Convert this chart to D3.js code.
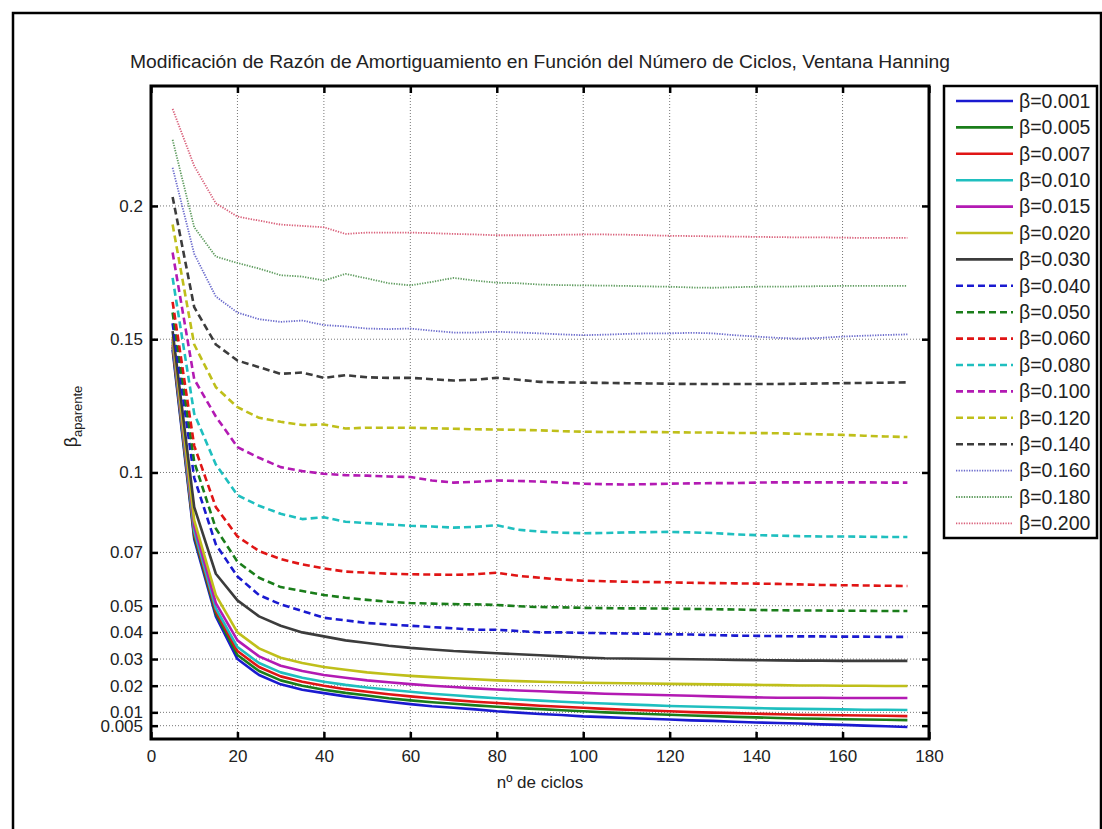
<!DOCTYPE html>
<html>
<head>
<meta charset="utf-8">
<script src="https://cdn.jsdelivr.net/npm/d3@7"></script>
<style>
  html, body { margin: 0; padding: 0; background: #fff; }
  svg { display: block; font-family: "Liberation Sans", Arial, sans-serif; }
</style>
</head>
<body>
<svg id="chart" width="1102" height="829"></svg>
<script>
// ---------------- DATA ----------------
const titleText = "Modificación de Razón de Amortiguamiento en Función del Número de Ciclos, Ventana Hanning";
const xLabelText = "nº de ciclos";
const cycles = [5,10,15,20,25,30,35,40,45,50,55,60,65,70,75,80,85,90,95,100,105,110,115,120,125,130,135,140,145,150,155,160,165,170,175];
const xTicks = [0,20,40,60,80,100,120,140,160,180];
const yTicks = [0.005,0.01,0.02,0.03,0.04,0.05,0.07,0.1,0.15,0.2];
const yTickLabels = ["0.005","0.01","0.02","0.03","0.04","0.05","0.07","0.1","0.15","0.2"];
const legendLabels = ["β=0.001","β=0.005","β=0.007","β=0.010","β=0.015","β=0.020","β=0.030","β=0.040","β=0.050","β=0.060","β=0.080","β=0.100","β=0.120","β=0.140","β=0.160","β=0.180","β=0.200"];

const b001 = [0.146,0.075,0.046,0.030,0.024,0.0205,0.0185,0.0172,0.016,0.015,0.014,0.0131,0.0123,0.0117,0.0111,0.0104,0.0099,0.0094,0.009,0.0085,0.0082,0.0079,0.0076,0.0073,0.007,0.0068,0.0065,0.0062,0.006,0.0058,0.0055,0.0053,0.005,0.0048,0.0045];
const b005 = [0.147,0.076,0.047,0.0315,0.0255,0.022,0.020,0.0185,0.0173,0.0163,0.0153,0.0145,0.0138,0.0132,0.0126,0.0121,0.0116,0.0112,0.0108,0.0104,0.0100,0.0097,0.0094,0.0091,0.0088,0.0086,0.0083,0.0081,0.0079,0.0077,0.0076,0.0074,0.0073,0.0072,0.0071];
const b007 = [0.148,0.077,0.048,0.033,0.027,0.0235,0.0215,0.020,0.0187,0.0177,0.0168,0.016,0.0153,0.0146,0.014,0.0135,0.013,0.0125,0.0121,0.0117,0.0113,0.011,0.0107,0.0104,0.0101,0.0099,0.0097,0.0095,0.0093,0.0091,0.009,0.0089,0.0088,0.0087,0.0086];
const b010 = [0.149,0.078,0.049,0.0345,0.0285,0.025,0.023,0.0215,0.0203,0.0193,0.0185,0.0177,0.017,0.0164,0.0158,0.0153,0.0148,0.0144,0.014,0.0136,0.0133,0.013,0.0127,0.0124,0.0122,0.012,0.0118,0.0116,0.0114,0.0113,0.0112,0.0111,0.011,0.011,0.0109];
const b015 = [0.150,0.080,0.051,0.037,0.031,0.0275,0.0255,0.024,0.023,0.022,0.0213,0.0206,0.020,0.0195,0.019,0.0186,0.0182,0.0179,0.0176,0.0173,0.017,0.0168,0.0166,0.0164,0.0162,0.016,0.0158,0.0156,0.0155,0.0155,0.0155,0.0154,0.0154,0.0154,0.0154];
const b020 = [0.151,0.082,0.054,0.040,0.034,0.0305,0.0285,0.027,0.026,0.025,0.0243,0.0237,0.0232,0.0228,0.0224,0.022,0.0217,0.0215,0.0213,0.0211,0.021,0.0209,0.0208,0.0207,0.0206,0.0205,0.0204,0.0203,0.0202,0.0201,0.0201,0.020,0.020,0.0199,0.0199];
const b030 = [0.153,0.087,0.062,0.052,0.046,0.0425,0.040,0.0385,0.037,0.036,0.035,0.0342,0.0336,0.033,0.0326,0.0322,0.0318,0.0314,0.031,0.0306,0.0303,0.0302,0.0301,0.030,0.0299,0.0298,0.0297,0.0296,0.0295,0.0294,0.0294,0.0293,0.0293,0.0293,0.0293];
const b040 = [0.156,0.098,0.073,0.061,0.054,0.0505,0.048,0.0455,0.0445,0.0435,0.043,0.0425,0.042,0.0415,0.041,0.041,0.0405,0.040,0.040,0.0398,0.0397,0.0396,0.0395,0.0393,0.0392,0.039,0.0388,0.0387,0.0386,0.0385,0.0385,0.0384,0.0384,0.0383,0.0383];
const b050 = [0.160,0.104,0.079,0.0665,0.0605,0.057,0.0555,0.054,0.053,0.0522,0.0515,0.051,0.0508,0.0506,0.0505,0.0503,0.0498,0.0495,0.0494,0.0492,0.0491,0.049,0.049,0.0489,0.0488,0.0487,0.0486,0.0484,0.0483,0.0482,0.0482,0.0481,0.0481,0.048,0.048];
const b060 = [0.164,0.110,0.087,0.076,0.0705,0.0675,0.0655,0.064,0.0628,0.0624,0.062,0.0618,0.0617,0.0616,0.0618,0.0624,0.0612,0.0605,0.0598,0.0594,0.0592,0.059,0.0589,0.0588,0.0586,0.0585,0.0584,0.0583,0.0582,0.058,0.0578,0.0577,0.0576,0.0575,0.0574];
const b080 = [0.173,0.122,0.103,0.0915,0.0875,0.0845,0.0825,0.0832,0.0815,0.081,0.0805,0.080,0.0797,0.0793,0.0796,0.0802,0.0785,0.0778,0.0774,0.0772,0.0773,0.0775,0.0776,0.0777,0.0775,0.0773,0.0768,0.0765,0.0763,0.0761,0.076,0.076,0.0759,0.0758,0.0758];
const b100 = [0.1825,0.135,0.121,0.1095,0.1055,0.102,0.1005,0.0995,0.099,0.0988,0.0985,0.0983,0.097,0.0962,0.0965,0.097,0.0968,0.0966,0.0962,0.0958,0.0956,0.0955,0.0956,0.0958,0.0959,0.096,0.096,0.0962,0.0963,0.0963,0.0963,0.0963,0.0963,0.0962,0.0962];
const b120 = [0.193,0.148,0.132,0.1245,0.1205,0.119,0.1178,0.118,0.1165,0.1168,0.1168,0.1168,0.1166,0.1164,0.1162,0.1161,0.116,0.1158,0.1155,0.1153,0.1152,0.1152,0.1152,0.1151,0.115,0.115,0.1148,0.1148,0.1147,0.1145,0.1143,0.1141,0.1138,0.1135,0.1133];
const b140 = [0.2034,0.162,0.148,0.142,0.1395,0.137,0.1375,0.1355,0.1365,0.1357,0.1355,0.1355,0.135,0.1345,0.1348,0.1355,0.1348,0.134,0.1338,0.1337,0.1336,0.1335,0.1334,0.1333,0.1332,0.1332,0.1332,0.1332,0.1332,0.1333,0.1334,0.1335,0.1336,0.1337,0.1338];
const b160 = [0.2143,0.182,0.166,0.160,0.1575,0.1565,0.157,0.1553,0.1548,0.154,0.1538,0.154,0.1532,0.1525,0.1525,0.1528,0.1525,0.1522,0.1518,0.1515,0.1517,0.152,0.1522,0.1522,0.1524,0.1522,0.1515,0.151,0.1505,0.1502,0.1505,0.151,0.1513,0.1516,0.1518];
const b180 = [0.2248,0.192,0.181,0.1786,0.1765,0.174,0.1735,0.172,0.1745,0.1728,0.171,0.1702,0.1715,0.173,0.172,0.1712,0.171,0.1705,0.1703,0.1702,0.1701,0.170,0.1698,0.1697,0.1694,0.1693,0.1695,0.1697,0.1697,0.1698,0.1699,0.170,0.170,0.170,0.170];
const b200 = [0.2364,0.215,0.201,0.196,0.1945,0.193,0.1925,0.192,0.1895,0.190,0.190,0.190,0.1898,0.1895,0.1893,0.189,0.189,0.189,0.1892,0.1893,0.1893,0.1892,0.189,0.1888,0.1887,0.1886,0.1885,0.1884,0.1883,0.1882,0.1882,0.1881,0.188,0.188,0.188];

const seriesValues = [b001,b005,b007,b010,b015,b020,b030,b040,b050,b060,b080,b100,b120,b140,b160,b180,b200];

// ---------------- STYLES ----------------
const baseColors = ["#1a1ad0","#1a7d1a","#e01515","#1fbfbf","#b31ab3","#bfbf1a","#3c3c3c"];
const dotColors = ["#6a6acc","#5f9c5f","#d9607a"];
function styleOf(i) {
  if (i < 7) return {color: baseColors[i], dash: null, width: 2.6};
  if (i < 14) return {color: baseColors[i-7], dash: "7,4", width: 2.6};
  return {color: dotColors[i-14], dash: "1.3,1.3", width: 1.8};
}

// ---------------- LAYOUT ----------------
const plot = {left: 151, right: 929, top: 86, bottom: 739};
const svg = d3.select("#chart");

// figure frame
svg.append("rect").attr("x", 13).attr("y", 13).attr("width", 1088).attr("height", 830)
  .attr("fill", "#fff").attr("stroke", "#000").attr("stroke-width", 2.5);

const x = d3.scaleLinear().domain([0, 180]).range([plot.left, plot.right]);
const y = d3.scaleLinear().domain([0, 0.245]).range([plot.bottom, plot.top]);

// grid
const grid = svg.append("g").attr("class", "grid");
grid.selectAll("line.gx").data(xTicks.slice(1, -1)).join("line")
  .attr("x1", d => x(d)).attr("x2", d => x(d))
  .attr("y1", plot.top).attr("y2", plot.bottom)
  .attr("stroke", "#777").attr("stroke-width", 1).attr("stroke-dasharray", "1,2");
grid.selectAll("line.gy").data(yTicks).join("line")
  .attr("x1", plot.left).attr("x2", plot.right)
  .attr("y1", d => y(d)).attr("y2", d => y(d))
  .attr("stroke", "#777").attr("stroke-width", 1).attr("stroke-dasharray", "1,2");

// series
svg.append("clipPath").attr("id", "clip").append("rect")
  .attr("x", plot.left).attr("y", plot.top)
  .attr("width", plot.right - plot.left).attr("height", plot.bottom - plot.top);
const line = d3.line().x((d, i) => x(cycles[i])).y(d => y(d));
const lines = svg.append("g").attr("clip-path", "url(#clip)");
seriesValues.forEach((vals, i) => {
  const s = styleOf(i);
  lines.append("path").datum(vals)
    .attr("d", line)
    .attr("fill", "none")
    .attr("stroke", s.color)
    .attr("stroke-width", s.width)
    .attr("stroke-dasharray", s.dash)
    .attr("stroke-linejoin", "round");
});

// axes
const tickFont = 17;
const axL = d3.axisLeft(y).tickValues(yTicks).tickFormat((d, i) => yTickLabels[i]).tickSizeInner(-7).tickSizeOuter(0).tickPadding(8);
const axR = d3.axisRight(y).tickValues(yTicks).tickFormat("").tickSizeInner(-7).tickSizeOuter(0);
const axB = d3.axisBottom(x).tickValues(xTicks).tickSizeInner(-7).tickSizeOuter(0).tickPadding(11);
const axT = d3.axisTop(x).tickValues(xTicks).tickFormat("").tickSizeInner(-7).tickSizeOuter(0);

function styleAxis(g) {
  g.select(".domain").remove();
  g.selectAll(".tick line").attr("stroke", "#000").attr("stroke-width", 2.5);
  g.selectAll(".tick text").attr("font-size", tickFont).attr("fill", "#222")
    .attr("font-family", "'Liberation Sans', Arial, sans-serif");
}
svg.append("g").attr("transform", `translate(${plot.left},0)`).call(axL).call(styleAxis);
svg.append("g").attr("transform", `translate(${plot.right},0)`).call(axR).call(styleAxis);
svg.append("g").attr("transform", `translate(0,${plot.bottom})`).call(axB).call(styleAxis);
svg.append("g").attr("transform", `translate(0,${plot.top})`).call(axT).call(styleAxis);

// box
svg.append("rect").attr("x", plot.left).attr("y", plot.top)
  .attr("width", plot.right - plot.left).attr("height", plot.bottom - plot.top)
  .attr("fill", "none").attr("stroke", "#000").attr("stroke-width", 3);

// title
svg.append("text").attr("x", (plot.left + plot.right) / 2).attr("y", 68)
  .attr("text-anchor", "middle").attr("font-size", 18).attr("fill", "#222")
  .attr("textLength", 820).attr("lengthAdjust", "spacingAndGlyphs")
  .text(titleText);

// x label
svg.append("text").attr("x", (plot.left + plot.right) / 2).attr("y", 788)
  .attr("text-anchor", "middle").attr("font-size", 17).attr("fill", "#222")
  .text(xLabelText);

// y label
const yl = svg.append("text")
  .attr("transform", `translate(77,${(plot.top + plot.bottom) / 2 + 4}) rotate(-90)`)
  .attr("text-anchor", "middle").attr("font-size", 18).attr("fill", "#222");
yl.append("tspan").text("β");
yl.append("tspan").attr("font-size", 13).attr("dy", 5).text("aparente");

// legend
const leg = {x: 944, y: plot.top, w: 153, h: 452, rowH: 26.4, first: 15};
svg.append("rect").attr("x", leg.x).attr("y", leg.y).attr("width", leg.w).attr("height", leg.h)
  .attr("fill", "#fff").attr("stroke", "#000").attr("stroke-width", 2.5);
const lg = svg.append("g");
legendLabels.forEach((lab, i) => {
  const s = styleOf(i);
  const yy = leg.y + leg.first + i * leg.rowH;
  lg.append("line").attr("x1", 956).attr("x2", 1013).attr("y1", yy).attr("y2", yy)
    .attr("stroke", s.color).attr("stroke-width", s.width).attr("stroke-dasharray", s.dash);
  lg.append("text").attr("x", 1019).attr("y", yy).attr("dy", "0.35em")
    .attr("font-size", 19.5).attr("fill", "#222").text(lab);
});
</script>
</body>
</html>
